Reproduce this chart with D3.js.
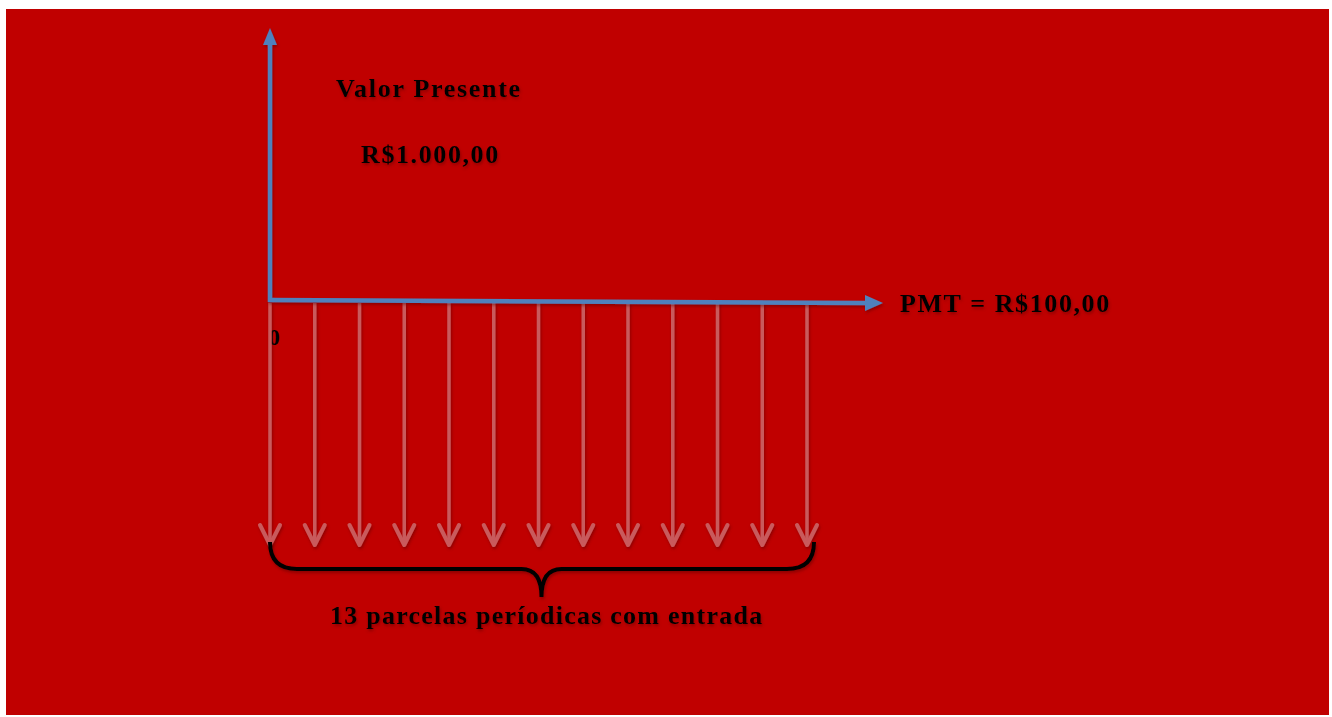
<!DOCTYPE html>
<html>
<head>
<meta charset="utf-8">
<script src="https://cdn.jsdelivr.net/npm/d3@7"></script>
<style>
  html, body { margin:0; padding:0; background:#fff; }
  svg { display:block; }
  text { font-family:"Liberation Serif","Times New Roman",serif; font-weight:bold; fill:#000; }
</style>
</head>
<body>
<div id="chart"></div>
<script>
// Data
const periods = [0,1,2,3,4,5,6,7,8,9,10,11,12];
const pmtValues = [100,100,100,100,100,100,100,100,100,100,100,100,100];
const titlePV = "Valor Presente";
const valuePV = "R$1.000,00";
const labelPMT = "PMT = R$100,00";
const labelBrace = "13 parcelas períodicas com entrada";
const zeroLabel = "0";

const width = 1332, height = 717;

const svg = d3.select("#chart").append("svg")
  .attr("width", width)
  .attr("height", height);

const defs = svg.append("defs");
const shadow = defs.append("filter").attr("id", "shadow")
  .attr("x", "-20%").attr("y", "-20%").attr("width", "140%").attr("height", "140%");
shadow.append("feDropShadow")
  .attr("dx", 1).attr("dy", 2).attr("stdDeviation", 1.5)
  .attr("flood-color", "#500000").attr("flood-opacity", 0.45);

// background panel
svg.append("rect")
  .attr("x", 6).attr("y", 9)
  .attr("width", 1323).attr("height", 706)
  .attr("fill", "#c00000");

const x = d3.scaleLinear().domain([0, 12]).range([270, 807]);
const y = d3.scaleLinear().domain([0, 100]).range([303, 545]);

// zero label (partly behind first arrow)
svg.append("text")
  .attr("x", 274).attr("y", 345)
  .attr("text-anchor", "middle")
  .attr("font-size", 23)
  .text(zeroLabel);

// payment arrows
const arrowColor = "#c95a5c";
const arrows = svg.append("g").attr("filter", "url(#shadow)");
arrows.selectAll("line")
  .data(periods)
  .join("line")
  .attr("x1", d => x(d)).attr("x2", d => x(d))
  .attr("y1", y(0)).attr("y2", (d, i) => y(pmtValues[i]) - 3)
  .attr("stroke", arrowColor).attr("stroke-width", 3.5);
arrows.selectAll("path")
  .data(periods)
  .join("path")
  .attr("d", (d, i) => {
    const cx = x(d), tip = y(pmtValues[i]);
    return `M${cx - 10},${tip - 20} L${cx},${tip} L${cx + 10},${tip - 20}`;
  })
  .attr("fill", "none")
  .attr("stroke", arrowColor).attr("stroke-width", 4)
  .attr("stroke-linecap", "round").attr("stroke-linejoin", "round");

// axes (blue)
const blue = "#4f81bd";
const axes = svg.append("g").attr("filter", "url(#shadow)");
axes.append("line")
  .attr("x1", 270).attr("y1", 302).attr("x2", 270).attr("y2", 40)
  .attr("stroke", blue).attr("stroke-width", 4.5);
axes.append("path")
  .attr("d", "M270,28 L277,45 L263,45 Z")
  .attr("fill", blue);
axes.append("path")
  .attr("d", "M268,300 L866,303")
  .attr("stroke", blue).attr("stroke-width", 4.5).attr("fill", "none");
axes.append("path")
  .attr("d", "M883,303 L865,295 L865,311 Z")
  .attr("fill", blue);

// brace
const bL = x(0), bR = x(12) + 7, bM = (x(0) + x(12)) / 2 + 3;
svg.append("path")
  .attr("filter", "url(#shadow)")
  .attr("d", `M${bL},542 Q${bL},569 ${bL + 27},569 L${bM - 20},569 Q${bM},569 ${bM},597 Q${bM},569 ${bM + 20},569 L${bR - 27},569 Q${bR},569 ${bR},542`)
  .attr("fill", "none")
  .attr("stroke", "#000").attr("stroke-width", 4)
  .attr("stroke-linecap", "butt");

// texts
const texts = svg.append("g").attr("filter", "url(#shadow)");
texts.append("text").attr("x", 336).attr("y", 97)
  .attr("font-size", 26).attr("letter-spacing", 1.7).text(titlePV);
texts.append("text").attr("x", 361).attr("y", 163)
  .attr("font-size", 26).attr("letter-spacing", 1.6).text(valuePV);
texts.append("text").attr("x", 900).attr("y", 312)
  .attr("font-size", 26).attr("letter-spacing", 1.6).text(labelPMT);
texts.append("text").attr("x", 330).attr("y", 624)
  .attr("font-size", 26).attr("letter-spacing", 1.25).text(labelBrace);
</script>
</body>
</html>
